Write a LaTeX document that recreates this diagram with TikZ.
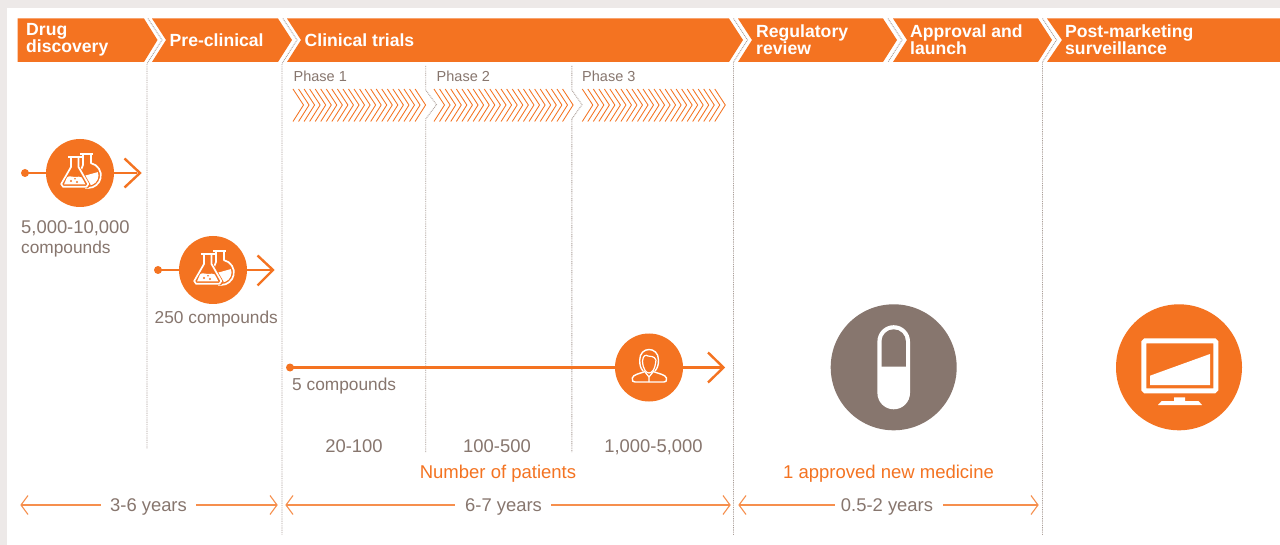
\documentclass[tikz,border=0pt]{standalone}
\usepackage{fontspec}
\setmainfont{Liberation Sans}
\definecolor{org}{HTML}{F47321}
\definecolor{gry}{HTML}{87766E}
\definecolor{bgg}{HTML}{EDE9E8}
\tikzset{
 bar/.style={fill=org,draw=none},
 bartext/.style={text=white,font=\fontsize{17.6}{17}\selectfont\bfseries,align=left,anchor=west,inner sep=0pt},
 gtext/.style={text=gry,font=\fontsize{17.3}{20}\selectfont,align=left,inner sep=0pt},
 numtext/.style={text=gry,font=\fontsize{18.4}{20}\selectfont,inner sep=0pt,anchor=base},
 ptext/.style={text=gry,font=\fontsize{14.5}{16}\selectfont,anchor=west,inner sep=0pt},
 otext/.style={text=org,font=\fontsize{18.5}{20}\selectfont,inner sep=0pt,anchor=base},
 dots/.style={draw=gry!70,line width=0.9pt,dash pattern=on 0.9pt off 0.9pt},
 hatch/.style={draw=org,line width=0.85pt},
 flow/.style={draw=org,line width=2.4pt},
 tipline/.style={draw=org,line width=2.4pt,line cap=butt},
 thinline/.style={draw=org!80,line width=1.1pt},
 ico/.style={draw=white,line width=1.7pt,line join=round,fill=none},
 flasks/.pic={
  % round flask, behind
  \draw[ico] (0,-19)--(13,-19);
  \draw[ico] (3,-19)--(3,-8)--(1,-3);
  \draw[ico] (11,-19)--(11,-9.8) arc[start angle=-78,end angle=90,radius=12.5] -- (5,15);
  \begin{scope}
   \clip (8.5,2.5) circle (10);
   \fill[white] (2,3.5)--(20,-1.5)--(20,20)--(2,20)--cycle;
  \end{scope}
  % conical flask
  \fill[org] (-10,-16) -- (0,-16) -- (0,-6.5) -- (10.5,11.5) -- (8,15.5) -- (-20,15.5) -- (-20.5,11.5) -- (-10,-6.5) -- cycle;
  \draw[ico] (-12,-16)--(2,-16);
  \draw[ico] (-9,-16)--(-9,-6)--(-18.8,11)--(-17,13.7)--(6.5,13.7)--(8.3,11)--(-1.5,-6)--(-1.5,-16);
  \fill[white] (-13,4.5) .. controls (-10,1.5) and (-8,5) .. (-5,4) .. controls (-2,3) and (0,4) .. (1.8,4.5) -- (5.5,11.5) -- (-16,11.5) -- cycle;
  \fill[org] (-9,8) circle (1.2) (-3,9) circle (1.2) (-5,5.8) circle (0.9);
 }
}
\begin{document}
\begin{tikzpicture}[x=1pt,y=-1pt]
\useasboundingbox (0,0) rectangle (1280,545);
\fill[bgg] (0,0) rectangle (1280,545);
\fill[white] (7,8) rectangle (1280,545);

% bars
\fill[bar] (17.5,18.5)--(144,18.5)--(157.5,40)--(144,62)--(17.5,62)--cycle;
\fill[bar] (152,18.5)--(278,18.5)--(292,40)--(278,62)--(152,62)--(166,40)--cycle;
\fill[bar] (287,18.5)--(729,18.5)--(743,40)--(729,62)--(287,62)--(301,40)--cycle;
\fill[bar] (738,18.5)--(883,18.5)--(897,40)--(883,62)--(738,62)--(752,40)--cycle;
\fill[bar] (893,18.5)--(1038,18.5)--(1052,40)--(1038,62)--(893,62)--(907,40)--cycle;
\fill[bar] (1047,18.5)--(1280,18.5)--(1280,62)--(1047,62)--(1062,40)--cycle;

\node[bartext] (t1) at (26,40) {Drug\\discovery};
\node[bartext] (t2) at (169.5,40) {Pre-clinical};
\node[bartext] (t3) at (304.5,40) {Clinical trials};
\node[bartext] (t4) at (756,40) {Regulatory\\review};
\node[bartext] (t5) at (910,40) {Approval and\\launch};
\node[bartext] (t6) at (1065,40) {Post-marketing\\surveillance};

% dotted separators
\draw[dots] (148,18.5)--(162,40)--(148,62)--(147,64)--(147,449);
\draw[dots] (283,18.5)--(297,40)--(283,62)--(282,64)--(282,535);
\draw[dots] (733.5,18.5)--(747.5,40)--(733.5,62)--(733.5,535);
\draw[dots] (888,18.5)--(902,40)--(888,62);
\draw[dots] (1042.5,18.5)--(1056.5,40)--(1042.5,62)--(1042.5,535);
\draw[dots] (425.7,66)--(425.7,90)--(436.5,104.7)--(425.7,119)--(425.7,452);
\draw[dots] (571.8,66)--(571.8,90)--(582,104.7)--(571.8,119)--(571.8,452);

\node[ptext] (p1) at (293.5,76) {Phase 1};
\node[ptext] (p2) at (436.5,76) {Phase 2};
\node[ptext] (p3) at (582,76) {Phase 3};

% hatched chevrons
\foreach \a/\n/\st in {293/22/5.55,434/23/5.59,582.3/24/5.52}{
 \foreach \i in {0,...,\n}{
  \pgfmathsetmacro\xx{\a+\i*\st}
  \draw[hatch] (\xx,89)--(\xx+10.5,105)--(\xx,121.5);
 }
}

% flow 1
\fill[org] (25,173) circle (4);
\draw[flow] (25,173)--(137,173);
\draw[tipline] (124.5,158.5)--(140,173)--(124.5,187.5);
\fill[org] (80,173) circle (34);
\pic at (80,173) {flasks};
\node[gtext,anchor=north west] (c1) at (21,220.5) {{\fontsize{18.4}{20}\selectfont 5,000-10,000}\\compounds};

% flow 2
\fill[org] (158,270) circle (4);
\draw[flow] (158,270)--(271,270);
\draw[tipline] (257.5,255.5)--(273,270)--(257.5,285.5);
\fill[org] (213,270) circle (34);
\pic at (213,270) {flasks};
\node[gtext,anchor=north west] (c2) at (154.5,310.5) {250 compounds};

% flow 3
\fill[org] (290,367.5) circle (4);
\draw[flow] (290,367.5)--(722,367.5);
\draw[tipline] (708,352.5)--(723.5,367.5)--(708,382.5);
\fill[org] (649,367.5) circle (34);
\node[gtext,anchor=north west] (c3) at (292,377.5) {5 compounds};
% person
\draw[white,line width=1.4pt,line join=round] (643,371) .. controls (640.5,368) and (639.7,365) .. (639.7,360) .. controls (639.7,346) and (658.5,346) .. (658.5,360) .. controls (658.5,365) and (657.5,368) .. (655,371);
\draw[white,line width=1.2pt] (642.5,361) .. controls (643,355) and (646,354.5) .. (648,356) .. controls (651,357) and (654,355.5) .. (656,360);
\draw[white,line width=1.2pt] (642.5,361) .. controls (643,370) and (646.5,373) .. (649,373) .. controls (652,373) and (655,370) .. (656,360);
\draw[white,line width=1.4pt,line join=round] (645,371.5) .. controls (640,373.5) and (633,374.5) .. (632.3,378) .. controls (631.7,381) and (633,382) .. (635,382) -- (664,382) .. controls (666,382) and (667,381) .. (666.5,378) .. controls (665.5,374.5) and (658,373.5) .. (653,371.5);
\draw[white,line width=1.2pt] (645,372)--(649,377)--(653,372) (649,377)--(649,382);

% numbers
\node[numtext] (n1) at (354,452) {20-100};
\node[numtext] (n2) at (497,452) {100-500};
\node[numtext] (n3) at (653.5,452) {1,000-5,000};
\node[otext] (n4) at (498,478) {Number of patients};
\node[otext] (n5) at (888.5,478) {1 approved new medicine};

% pill
\fill[gry] (893.7,367.3) circle (63);
\fill[white] (877.4,366) -- (877.4,341.5) arc[start angle=180,end angle=360,radius=16.3] -- (910,393) arc[start angle=0,end angle=180,radius=16.3] -- cycle;
\fill[gry] (881.5,366.7) -- (881.5,341.5) arc[start angle=180,end angle=360,radius=12.2] -- (905.9,366.7) -- cycle;

% monitor
\fill[org] (1179,367.3) circle (63);
\draw[white,line width=5pt,rounded corners=1.5pt] (1143.8,340.8) rectangle (1215.8,390.8);
\fill[white] (1150,375.7) -- (1210,354) -- (1210,385) -- (1150,385) -- cycle;
\fill[white] (1158,405) -- (1161.7,401) -- (1174,401) -- (1174,397.3) -- (1185,397.3) -- (1185,401) -- (1198.5,401) -- (1202,405) -- cycle;

% durations
\node[numtext] (d1) at (148.5,511) {3-6 years};
\node[numtext] (d2) at (503.5,511) {6-7 years};
\node[numtext] (d3) at (887,511) {0.5-2 years};
\coordinate (a1l) at (21,505);  \coordinate (a1r) at (277,505);
\coordinate (a2l) at (286,505); \coordinate (a2r) at (730,505);
\coordinate (a3l) at (739,505); \coordinate (a3r) at (1038,505);
\foreach \l/\r/\la/\rb in {a1l/a1r/101/196,a2l/a2r/455/551,a3l/a3r/835/943}{
 \draw[thinline] (\l) -- (\la,505);
 \draw[thinline] (\r) -- (\rb,505);
 \draw[thinline] ([shift={(7,-9.5)}]\l) -- (\l) -- ([shift={(7,9.5)}]\l);
 \draw[thinline] ([shift={(-7,-9.5)}]\r) -- (\r) -- ([shift={(-7,9.5)}]\r);
}
\end{tikzpicture}
\end{document}
